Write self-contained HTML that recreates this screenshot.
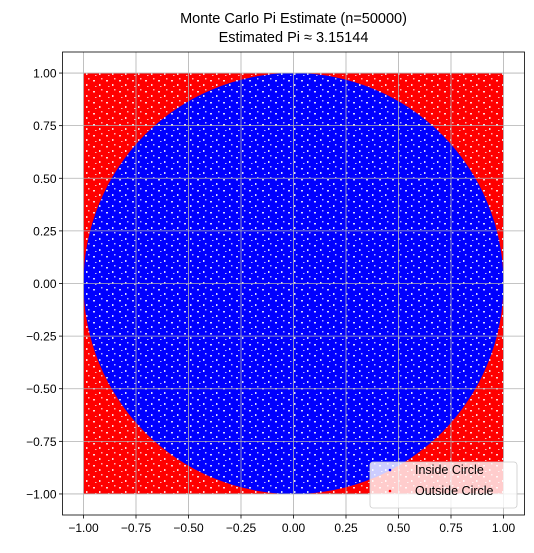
<!DOCTYPE html>
<html><head><meta charset="utf-8"><style>
body{margin:0;background:#fff;font-family:"Liberation Sans","DejaVu Sans",sans-serif}
</style></head><body>
<svg width="534" height="548" xmlns="http://www.w3.org/2000/svg" id="c">
<defs>
<pattern id="spk" width="13" height="11" patternUnits="userSpaceOnUse">
<rect x="2" y="3" width="2" height="1.5" fill="#fff" opacity="0.85"/>
<rect x="8" y="7" width="1.5" height="2" fill="#fff" opacity="0.85"/>
<rect x="10" y="1" width="1.5" height="1.5" fill="#fff" opacity="0.7"/>
<rect x="4" y="9" width="1.5" height="1" fill="#fff" opacity="0.7"/>
</pattern>
</defs>
</svg>
<script>
const nPoints=[50000];
const piEstimate=[3.15144];
const xTicks=[-1,-0.75,-0.5,-0.25,0,0.25,0.5,0.75,1];
const yTicks=[-1,-0.75,-0.5,-0.25,0,0.25,0.5,0.75,1];
const xTickLabels=["−1.00","−0.75","−0.50","−0.25","0.00","0.25","0.50","0.75","1.00"];
const yTickLabels=["−1.00","−0.75","−0.50","−0.25","0.00","0.25","0.50","0.75","1.00"];
const squareBounds=[-1,1];
const circleRadius=[1];
const NS="http://www.w3.org/2000/svg";
const svg=document.getElementById('c');
const L=62.5,R=524.5,T=52,B=515;
const sx=v=>L+(v+1.1)/2.2*(R-L);
const sy=v=>B-(v+1.1)/2.2*(B-T);
function mk(t,a,p){const e=document.createElementNS(NS,t);for(const k in a)e.setAttribute(k,a[k]);(p||svg).appendChild(e);return e;}
// outside points (red square)
let e=mk('rect',{x:sx(squareBounds[0]),y:sy(squareBounds[1]),width:sx(squareBounds[1])-sx(squareBounds[0]),height:sy(squareBounds[0])-sy(squareBounds[1]),fill:'#ff0000'});


e=mk('rect',{x:sx(squareBounds[0]),y:sy(squareBounds[1]),width:sx(squareBounds[1])-sx(squareBounds[0]),height:sy(squareBounds[0])-sy(squareBounds[1]),fill:'url(#spk)'});


e=mk('ellipse',{cx:sx(0),cy:sy(0),rx:sx(circleRadius[0])-sx(0),ry:sy(0)-sy(circleRadius[0]),fill:'#0000ff'});


e=mk('ellipse',{cx:sx(0),cy:sy(0),rx:sx(circleRadius[0])-sx(0),ry:sy(0)-sy(circleRadius[0]),fill:'url(#spk)'});


// grid
xTicks.forEach((v,i)=>{
 let g=mk('line',{x1:sx(v),x2:sx(v),y1:T,y2:B,stroke:'#b0b0b0','stroke-width':0.8});
 
 
 let t=mk('line',{x1:sx(v),x2:sx(v),y1:B,y2:B+3.5,stroke:'#000','stroke-width':0.8});
 
 
 let lb=mk('text',{x:sx(v),y:B+17,'text-anchor':'middle','font-size':12,fill:'#000'});
 lb.textContent=xTickLabels[i];
 
 
});
yTicks.forEach((v,i)=>{
 let g=mk('line',{x1:L,x2:R,y1:sy(v),y2:sy(v),stroke:'#b0b0b0','stroke-width':0.8});
 
 
 let t=mk('line',{x1:L-3.5,x2:L,y1:sy(v),y2:sy(v),stroke:'#000','stroke-width':0.8});
 
 
 let lb=mk('text',{x:L-6,y:sy(v)+4.5,'text-anchor':'end','font-size':12,fill:'#000'});
 lb.textContent=yTickLabels[i];
 
 
});
e=mk('rect',{x:L,y:T,width:R-L,height:B-T,fill:'none',stroke:'#000','stroke-width':0.8});


// title
let t1=mk('text',{x:(L+R)/2,y:23,'text-anchor':'middle','font-size':14.5,fill:'#000'});
t1.textContent='Monte Carlo Pi Estimate (n='+nPoints[0]+')';


let t2=mk('text',{x:(L+R)/2,y:42,'text-anchor':'middle','font-size':14.5,fill:'#000'});
t2.textContent='Estimated Pi ≈ '+piEstimate[0];


// legend
let lg=mk('g',{});


mk('rect',{x:370,y:462,width:147,height:46,rx:3,fill:'#fff','fill-opacity':0.8,stroke:'#ccc','stroke-width':0.8},lg);
let items=[['Inside Circle','#0000ff',474],['Outside Circle','#ff0000',495]];
items.forEach(it=>{
 let d=mk('circle',{cx:390,cy:it[2]-4,r:1.3,fill:it[1]},lg);
 
 
 let tx=mk('text',{x:415,y:it[2],'font-size':12.5,fill:'#000'},lg);
 tx.textContent=it[0];
 
 
});
</script>
</body></html>
